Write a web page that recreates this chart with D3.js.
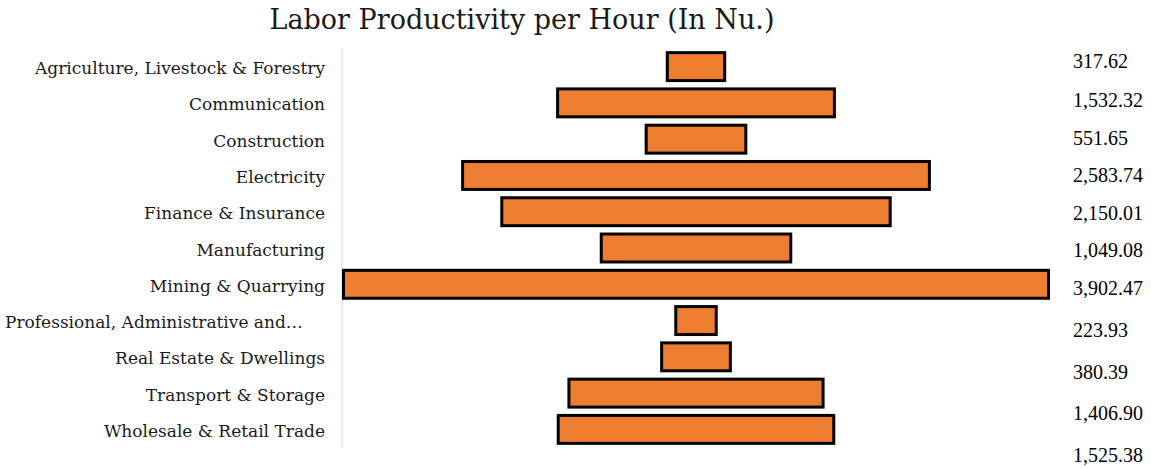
<!DOCTYPE html>
<html>
<head>
<meta charset="utf-8">
<script src="https://cdn.jsdelivr.net/npm/d3@7"></script>
<style>
  html, body { margin: 0; padding: 0; background: #ffffff; }
  svg { display: block; }
</style>
</head>
<body>
<svg id="chart" width="1151" height="468"></svg>
<script>
// ---- data ----
const chartTitle = "Labor Productivity per Hour (In Nu.)";
const categories = [
  "Agriculture, Livestock & Forestry",
  "Communication",
  "Construction",
  "Electricity",
  "Finance & Insurance",
  "Manufacturing",
  "Mining & Quarrying",
  "Professional, Administrative and\u2026",
  "Real Estate & Dwellings",
  "Transport & Storage",
  "Wholesale & Retail Trade"
];
const values = [317.62, 1532.32, 551.65, 2583.74, 2150.01, 1049.08, 3902.47, 223.93, 380.39, 1406.90, 1525.38];
const valueLabels = ["317.62", "1,532.32", "551.65", "2,583.74", "2,150.01", "1,049.08", "3,902.47", "223.93", "380.39", "1,406.90", "1,525.38"];

// ---- layout ----
const svg = d3.select("#chart");
const plotTop = 49, plotBottom = 447;
const axisX = 342;
const centerX = 696;
const fullWidth = 705;
const labelRight = 325;
const labelLeftLimit = 5;

const y = d3.scaleBand()
  .domain(categories)
  .range([plotTop, plotBottom])
  .paddingInner(0.23)
  .paddingOuter(0.1);

const w = d3.scaleLinear()
  .domain([0, d3.max(values)])
  .range([0, fullWidth]);

// value-label rows drift downward in the reference
const labelY = d3.scaleLinear()
  .domain([0, 1, 6, 10])
  .range([61, 100, 288, 455]);

// title
svg.append("text")
  .attr("x", 522)
  .attr("y", 29)
  .attr("text-anchor", "middle")
  .attr("font-family", "'DejaVu Serif', serif")
  .attr("font-size", 27)
  .attr("fill", "#1a1a1a")
  .text(chartTitle);

// vertical axis line
svg.append("line")
  .attr("x1", axisX).attr("x2", axisX)
  .attr("y1", plotTop).attr("y2", plotBottom)
  .attr("stroke", "#d9d9d9")
  .attr("stroke-width", 1);

// category labels (truncated label is laid out from the left edge)
svg.append("g")
  .selectAll("text")
  .data(categories)
  .join("text")
  .attr("x", d => d.endsWith("\u2026") ? labelLeftLimit : labelRight)
  .attr("y", d => y(d) + y.bandwidth() / 2 + 1.5)
  .attr("text-anchor", d => d.endsWith("\u2026") ? "start" : "end")
  .attr("dominant-baseline", "central")
  .attr("font-family", "'DejaVu Serif', serif")
  .attr("font-size", 17)
  .attr("fill", "#1a1a1a")
  .text(d => d);

// bars (centered funnel)
svg.append("g")
  .selectAll("rect")
  .data(values)
  .join("rect")
  .attr("x", d => centerX - w(d) / 2)
  .attr("y", (d, i) => y(categories[i]))
  .attr("width", d => w(d))
  .attr("height", y.bandwidth())
  .attr("fill", "#ED7D31")
  .attr("stroke", "#000000")
  .attr("stroke-width", 3);

// value labels
svg.append("g")
  .selectAll("text")
  .data(valueLabels)
  .join("text")
  .attr("x", 1073)
  .attr("y", (d, i) => labelY(i))
  .attr("dominant-baseline", "central")
  .attr("font-family", "'Liberation Serif', 'Times New Roman', serif")
  .attr("font-size", 20)
  .attr("fill", "#000000")
  .text(d => d);
</script>
</body>
</html>
